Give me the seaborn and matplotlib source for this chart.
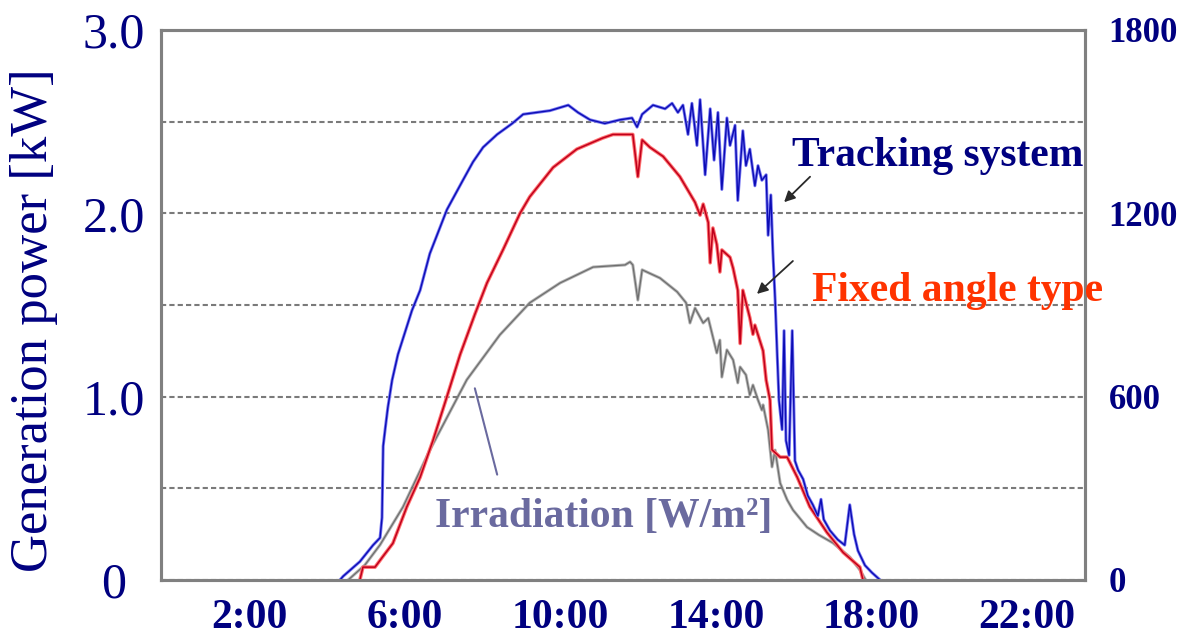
import matplotlib
matplotlib.use("Agg")
import matplotlib.pyplot as plt
import seaborn as sns
import pandas as pd

# ---------------- data ----------------
track_time = [4.33, 4.41, 4.84, 5.18, 5.36, 5.41, 5.44, 5.49, 5.56, 5.67, 5.82, 6.00, 6.18, 6.39,
              6.64, 7.08, 7.49, 7.75, 8.01, 8.37, 8.76, 9.04, 9.73, 10.20, 10.45, 10.76, 11.14,
              11.53, 11.84, 11.97, 12.10, 12.38,
              12.69, 12.87, 13.02, 13.15, 13.28, 13.38, 13.51, 13.59, 13.72, 13.85, 13.95, 14.05,
              14.15, 14.28, 14.36, 14.49, 14.56, 14.69, 14.77, 14.87, 15.00, 15.08, 15.18, 15.29,
              15.34, 15.41, 15.46, 15.52, 15.57, 15.62, 15.70, 15.75, 15.80, 15.88, 15.96, 16.03,
              16.11, 16.24, 16.36, 16.49, 16.62, 16.70, 16.77, 16.93, 17.13, 17.31, 17.44, 17.55,
              17.65, 17.83, 18.01, 18.22]
track_kw = [0.00, 0.02, 0.10, 0.19, 0.23, 0.34, 0.73, 0.82, 0.94, 1.09, 1.23, 1.35, 1.47, 1.58,
            1.78, 2.02, 2.18, 2.28, 2.36, 2.43, 2.49, 2.54, 2.56, 2.59, 2.55, 2.51, 2.49,
            2.51, 2.52, 2.47, 2.54, 2.59,
            2.57, 2.60, 2.55, 2.59, 2.43, 2.60, 2.37, 2.62, 2.21, 2.57, 2.29, 2.55,
            2.13, 2.52, 2.37, 2.48, 2.07, 2.45, 2.26, 2.35, 2.15, 2.26, 2.18, 2.21,
            1.88, 2.10, 1.80, 1.53, 1.25, 0.98, 0.82, 1.36, 0.76, 0.68, 1.36, 0.65,
            0.60, 0.55, 0.46, 0.41, 0.35, 0.44, 0.33, 0.27, 0.22, 0.19, 0.41, 0.25,
            0.16, 0.08, 0.04, 0.00]

fixed_time = [4.84, 4.92, 5.23, 5.44, 5.69, 6.05, 6.39, 6.72, 7.08, 7.42, 7.80, 8.11, 8.52, 8.96,
              9.21, 9.81, 10.42, 11.08, 11.35, 11.86, 11.99, 12.10, 12.30, 12.64, 13.07, 13.46,
              13.59, 13.67,
              13.80, 13.85, 13.92, 14.02, 14.10, 14.15, 14.36, 14.44, 14.56, 14.62, 14.69, 14.87,
              14.95, 15.00, 15.21, 15.29, 15.39, 15.44, 15.65, 15.83, 16.09, 16.41, 16.85, 17.27,
              17.70, 17.78]
fixed_kw = [0.00, 0.07, 0.07, 0.13, 0.20, 0.40, 0.56, 0.76, 1.00, 1.23, 1.45, 1.62, 1.80, 2.00,
            2.09, 2.25, 2.35, 2.41, 2.43, 2.43, 2.20, 2.40, 2.36, 2.31, 2.20, 2.06,
            1.99, 2.05,
            1.95, 1.73, 1.92, 1.83, 1.68, 1.80, 1.76, 1.70, 1.58, 1.29, 1.58, 1.43,
            1.34, 1.39, 1.25, 1.09, 0.98, 0.71, 0.67, 0.67, 0.56, 0.40, 0.26, 0.15,
            0.07, 0.00]

irr_time = [4.54, 4.97, 5.36, 5.95, 6.64, 7.59, 8.44, 9.21, 9.99, 10.84, 11.66, 11.79, 11.86,
            11.99, 12.10, 12.56, 13.00, 13.23, 13.33, 13.46, 13.67, 13.80, 13.92, 14.02, 14.10,
            14.15, 14.28, 14.44, 14.56, 14.62, 14.77, 14.87, 14.95, 15.08, 15.18, 15.21, 15.34,
            15.44, 15.52, 15.65, 15.83, 15.98, 16.34, 16.65, 17.01, 17.44, 17.70, 17.85]
irr_wm2 = [0, 49, 115, 239, 425, 655, 802, 907, 972, 1024, 1031, 1041, 1031,
           916, 1015, 988, 943, 907, 841, 890, 841, 857, 795, 743, 785,
           664, 753, 720, 645, 697, 671, 605, 638, 589, 556, 573, 491,
           370, 425, 317, 262, 229, 173, 147, 121, 75, 33, 0]

x_ticks = [2, 6, 10, 14, 18, 22]
x_labels = ["2:00", "6:00", "10:00", "14:00", "18:00", "22:00"]
left_ticks = [0, 0.5, 1.0, 1.5, 2.0, 2.5, 3.0]
left_labels = ["0", "", "1.0", "", "2.0", "", "3.0"]
right_ticks = [0, 600, 1200, 1800]
right_labels = ["0", "600", "1200", "1800"]

df_track = pd.DataFrame({"time": track_time, "kw": track_kw})
df_fixed = pd.DataFrame({"time": fixed_time, "kw": fixed_kw})
df_irr = pd.DataFrame({"time": irr_time, "wm2": irr_wm2})

# ---------------- style ----------------
sns.set_theme(style="white")
plt.rcParams["font.family"] = ["Liberation Serif", "DejaVu Serif"]

NAVY = "#000080"
SPINE = "#808080"

fig = plt.figure(figsize=(11.84, 6.36), dpi=100)
ax = fig.add_axes([0.1360, 0.0881, 0.7804, 0.8648])
ax2 = ax.twinx()
ax.set_zorder(2)
ax.patch.set_visible(False)
ax2.set_zorder(1)

# irradiation on right axis
sns.lineplot(data=df_irr, x="time", y="wm2", ax=ax2, color="#b4b4b4", lw=2.2, estimator=None)
sns.lineplot(data=df_irr, x="time", y="wm2", ax=ax2, color="#6e6e6e", lw=0.9, estimator=None)

# generation power
sns.lineplot(data=df_fixed, x="time", y="kw", ax=ax, color="#ff7272", lw=2.6, estimator=None)
sns.lineplot(data=df_fixed, x="time", y="kw", ax=ax, color="#c0001c", lw=1.1, estimator=None)
sns.lineplot(data=df_track, x="time", y="kw", ax=ax, color="#7878f2", lw=2.2, estimator=None)
sns.lineplot(data=df_track, x="time", y="kw", ax=ax, color="#0c0cb4", lw=1.0, estimator=None)

ax.set_xlim(-0.273, 23.49)
ax.set_ylim(0, 3.0)
ax2.set_ylim(0, 1800)

ax.grid(False)
ax2.grid(False)
ax.set_yticks(left_ticks)
ax.set_yticklabels(left_labels)
ax.yaxis.grid(True, linestyle=(0, (2.5, 1.5)), color="#7a7a7a", lw=1.5)
ax.set_xticks(x_ticks)
ax.set_xticklabels(x_labels)
ax2.set_yticks(right_ticks)
ax2.set_yticklabels(right_labels)

ax.tick_params(axis="x", length=0, pad=14, labelsize=30, labelcolor=NAVY)
for t in ax.get_xticklabels():
    t.set_fontweight("bold")
ax.tick_params(axis="y", length=0, pad=34, labelsize=36, labelcolor=NAVY)
for t in ax.get_yticklabels():
    t.set_horizontalalignment("center")
ax2.tick_params(axis="y", length=0, pad=17, labelsize=25, labelcolor=NAVY)
for t in ax2.get_yticklabels():
    t.set_fontweight("bold")

ax.set_xlabel("")
ax.set_ylabel("Generation power [kW]", fontsize=38, color=NAVY)
ax.yaxis.set_label_coords(-0.112, 0.473)
ax2.set_ylabel("")

for a in (ax, ax2):
    for s in a.spines.values():
        s.set_color(SPINE)
        s.set_linewidth(2.2)
        s.set_visible(True)

# annotations
ax.text(15.95, 2.26, "Tracking system", fontsize=30, fontweight="bold", color=NAVY,
        ha="left", va="baseline")
ax.annotate("", xy=(15.70, 2.05), xytext=(16.47, 2.21),
            arrowprops=dict(arrowstyle="-|>", color="#2a2a2a", lw=1.3, mutation_scale=16))
ax.text(16.47, 1.52, "Fixed angle type", fontsize=30, fontweight="bold", color="#ff3300",
        ha="left", va="baseline")
ax.annotate("", xy=(15.0, 1.55), xytext=(16.03, 1.75),
            arrowprops=dict(arrowstyle="-|>", color="#2a2a2a", lw=1.3, mutation_scale=16))
ax.text(6.77, 0.29, "Irradiation [W/m²]", fontsize=30, fontweight="bold", color="#6a6a9f",
        ha="left", va="baseline")
ax.annotate("", xy=(8.39, 0.56), xytext=(7.78, 1.06),
            arrowprops=dict(arrowstyle="-", color="#6a6a9f", lw=1.5))

fig.savefig("out.png", dpi=100)
